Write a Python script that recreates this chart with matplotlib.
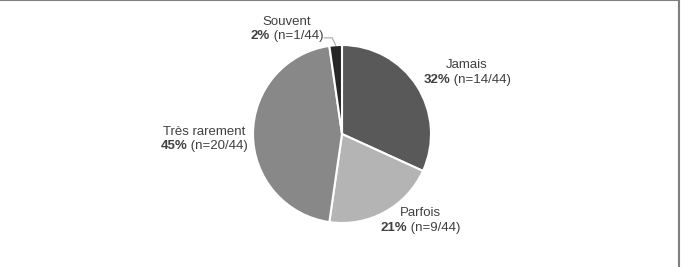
import matplotlib
matplotlib.use("Agg")
import matplotlib.pyplot as plt
from matplotlib.offsetbox import TextArea, HPacker, VPacker, AnnotationBbox
import numpy as np

labels = ["Jamais", "Parfois", "Très rarement", "Souvent"]
counts = [14, 9, 20, 1]
pcts = ["32%", "21%", "45%", "2%"]
colors = ["#595959", "#b4b4b4", "#888888", "#262626"]
# label placement (radial distance, angle offset in deg) relative to wedge middle
lab_r = [1.565, 1.31, 1.55, 1.333]
lab_da = [-6.6, 13.5, 2.1, 23.6]

plt.rcParams['font.family'] = ['Liberation Sans', 'DejaVu Sans']
txtcol = "#404040"

fig = plt.figure(figsize=(6.81, 2.67), dpi=100)
R = 89
cx, cy = 342, 134
ax = fig.add_axes([(cx - R) / 681, (267 - cy - R) / 267, 2 * R / 681, 2 * R / 267])
wedges, _ = ax.pie(counts, colors=colors, startangle=90, counterclock=False,
                   radius=1, wedgeprops=dict(edgecolor="white", linewidth=1.5))
ax.set_xlim(-1, 1)
ax.set_ylim(-1, 1)
ax.set_aspect("equal")
ax.axis("off")

total = sum(counts)
for i, w in enumerate(wedges):
    mid = np.deg2rad((w.theta1 + w.theta2) / 2 + lab_da[i])
    x, y = lab_r[i] * np.cos(mid), lab_r[i] * np.sin(mid)
    t1 = TextArea(labels[i], textprops=dict(color=txtcol, fontsize=9.5))
    t2 = TextArea(pcts[i], textprops=dict(color=txtcol, fontsize=9.5, fontweight="bold"))
    t3 = TextArea(" (n=%d/%d)" % (counts[i], total), textprops=dict(color=txtcol, fontsize=9.5))
    box = VPacker(children=[t1, HPacker(children=[t2, t3], align="baseline", pad=0, sep=0)],
                  align="center", pad=0, sep=2)
    ab = AnnotationBbox(box, (x, y), xycoords="data", frameon=False,
                        box_alignment=(0.5, 0.5), annotation_clip=False)
    ax.add_artist(ab)
    if labels[i] == "Souvent":
        ang = np.deg2rad((w.theta1 + w.theta2) / 2)
        ax.plot([-0.20, -0.11, np.cos(ang) * 1.0], [1.08, 1.08, np.sin(ang) * 1.0],
                color="#a6a6a6", lw=0.8, clip_on=False)

# partial frame (top and right)
fig.add_artist(plt.Line2D([0, 0.9975], [0.999, 0.999], color="#7f7f7f", lw=1.5, transform=fig.transFigure))
fig.add_artist(plt.Line2D([0.9975, 0.9975], [0, 0.999], color="#7f7f7f", lw=1.5, transform=fig.transFigure))

fig.savefig("out.png", dpi=100)
